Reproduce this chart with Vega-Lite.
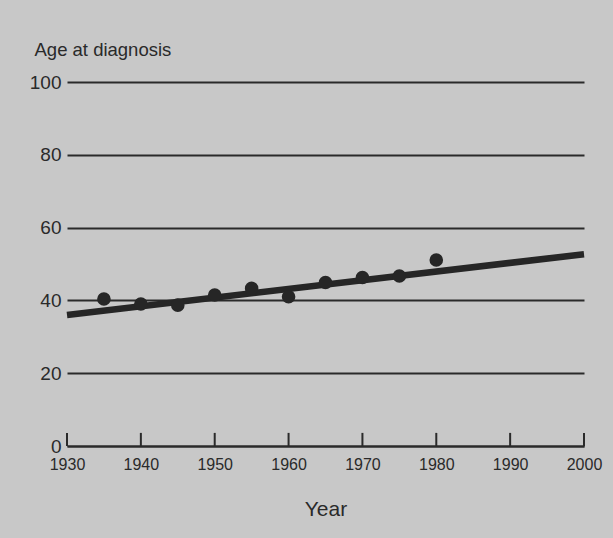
{
  "$schema": "https://vega.github.io/schema/vega-lite/v6.json",
  "autosize": {"type": "none"},
  "width": 517,
  "height": 364,
  "padding": {"left": 67, "top": 82, "right": 29, "bottom": 92},
  "background": "#c8c8c8",
  "config": {
    "view": {"stroke": null},
    "font": "Liberation Sans",
    "axis": {"labelColor": "#2a2a2a", "titleColor": "#2a2a2a", "labelFont": "Liberation Sans", "titleFont": "Liberation Sans", "titleFontWeight": "normal"}
  },
  "datasets": {
    "points": [
      {"year": 1935, "age": 40.4},
      {"year": 1940, "age": 39.0},
      {"year": 1945, "age": 38.7},
      {"year": 1950, "age": 41.5},
      {"year": 1955, "age": 43.3},
      {"year": 1960, "age": 41.0},
      {"year": 1965, "age": 44.9},
      {"year": 1970, "age": 46.3},
      {"year": 1975, "age": 46.7},
      {"year": 1980, "age": 51.1}
    ],
    "trend": [
      {"year": 1930, "age": 36.0},
      {"year": 2000, "age": 52.7}
    ],
    "ticks": [
      {"year": 1930, "y0": 0, "y1": 3.6},
      {"year": 1940, "y0": 0, "y1": 3.6},
      {"year": 1950, "y0": 0, "y1": 3.6},
      {"year": 1960, "y0": 0, "y1": 3.6},
      {"year": 1970, "y0": 0, "y1": 3.6},
      {"year": 1980, "y0": 0, "y1": 3.6},
      {"year": 1990, "y0": 0, "y1": 3.6},
      {"year": 2000, "y0": 0, "y1": 3.6}
    ]
  },
  "layer": [
    {
      "data": {"name": "ticks"},
      "mark": {"type": "rule", "color": "#2a2a2a", "strokeWidth": 2},
      "encoding": {
        "x": {
          "field": "year", "type": "quantitative",
          "scale": {"domain": [1930, 2000], "nice": false, "zero": false},
          "axis": {
            "title": "Year", "values": [1930, 1940, 1950, 1960, 1970, 1980, 1990, 2000],
            "format": "d", "grid": false, "ticks": false,
            "domainColor": "#2a2a2a", "domainWidth": 2,
            "labelFontSize": 16, "labelPadding": 10, "labelFlush": false,
            "titleFontSize": 21, "titlePadding": 26
          }
        },
        "y": {
          "field": "y0", "type": "quantitative",
          "scale": {"domain": [0, 100], "nice": false},
          "axis": {
            "title": "Age at diagnosis", "values": [0, 20, 40, 60, 80, 100],
            "domain": false, "ticks": false, "grid": true,
            "gridColor": "#2a2a2a", "gridWidth": 1.8, "gridOpacity": 1,
            "labelFontSize": 19, "labelPadding": 6,
            "titleAngle": 0, "titleAlign": "left", "titleBaseline": "alphabetic",
            "titleX": -33, "titleY": -27, "titleFontSize": 18.5
          }
        },
        "y2": {"field": "y1"}
      }
    },
    {
      "data": {"name": "trend"},
      "mark": {"type": "line", "color": "#262626", "strokeWidth": 6.5},
      "encoding": {
        "x": {"field": "year", "type": "quantitative"},
        "y": {"field": "age", "type": "quantitative"}
      }
    },
    {
      "data": {"name": "points"},
      "mark": {"type": "circle", "color": "#262626", "opacity": 1, "size": 185},
      "encoding": {
        "x": {"field": "year", "type": "quantitative"},
        "y": {"field": "age", "type": "quantitative"}
      }
    }
  ]
}
